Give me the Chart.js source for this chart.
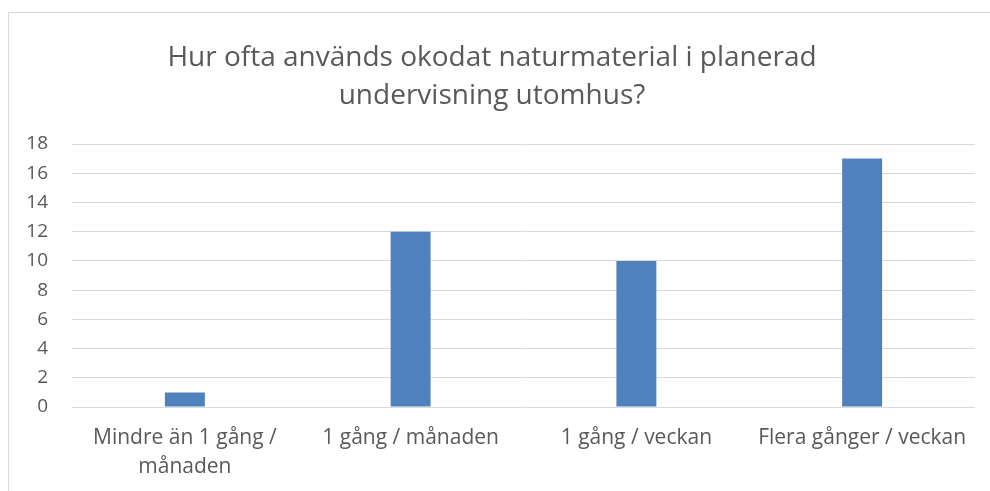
<!DOCTYPE html>
<html>
<head>
<meta charset="utf-8">
<script src="https://cdn.jsdelivr.net/npm/chart.js@4"></script>
<style>
  body { margin: 0; background: #fff; }
  #box {
    position: absolute; left: 8px; top: 12px;
    width: 990px; height: 490px;
    border: 1px solid #d9d9d9; box-sizing: border-box;
  }
  #wrap { position: absolute; left: 0; top: 0; width: 981px; height: 478px; }
</style>
</head>
<body>
<div id="box"><div id="wrap"><canvas id="chart"></canvas></div></div>
<script>
// Data
const titleLines = ['Hur ofta används okodat naturmaterial i planerad', 'undervisning utomhus?'];
const categories = [['Mindre än 1 gång /', 'månaden'], '1 gång / månaden', '1 gång / veckan', 'Flera gånger / veckan'];
const values = [1, 12, 10, 17];
const yMin = 0, yMax = 18, yStep = 2;

const textColor = '#595959';
const fontFamily = '"Open Sans", sans-serif';

const ctx = document.getElementById('chart').getContext('2d');
new Chart(ctx, {
    type: 'bar',
    data: {
        labels: categories,
        datasets: [{
            data: values,
            backgroundColor: '#4F81BD',
            borderWidth: 0,
            barPercentage: 0.5,
            categoryPercentage: 0.354
        }]
    },
    options: {
        responsive: true,
        maintainAspectRatio: false,
        animation: false,
        layout: { padding: { left: 0, right: 15, top: 0, bottom: 0 } },
        plugins: {
            legend: { display: false },
            tooltip: { enabled: false },
            title: {
                display: true,
                text: titleLines,
                color: textColor,
                font: { family: fontFamily, size: 28, weight: 'normal', lineHeight: 38 / 28 },
                padding: { top: 26, bottom: 29 }
            }
        },
        scales: {
            x: {
                grid: { display: false, drawTicks: false },
                border: { display: false },
                ticks: {
                    color: textColor,
                    autoSkip: false,
                    maxRotation: 0,
                    padding: 17,
                    font: { family: fontFamily, size: 21, lineHeight: 29 / 21 }
                },
                afterFit: s => { s.height = 84; }
            },
            y: {
                min: yMin,
                max: yMax,
                ticks: {
                    stepSize: yStep,
                    color: textColor,
                    padding: 24,
                    font: { family: fontFamily, size: 19 }
                },
                grid: { color: '#d9d9d9', lineWidth: 1, drawTicks: false },
                border: { display: false },
                afterFit: s => { s.width = 63; }
            }
        }
    }
});
</script>
</body>
</html>
